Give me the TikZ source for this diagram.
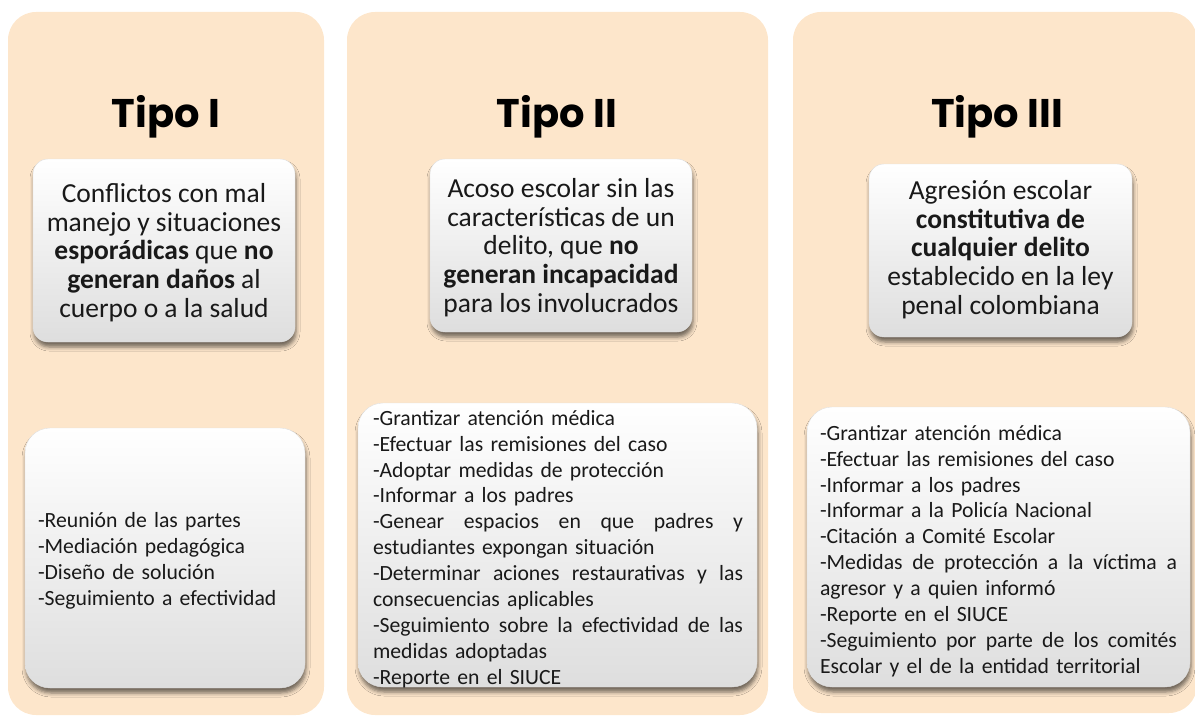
\documentclass[tikz,border=0pt]{standalone}
\usepackage{fontspec}
\setmainfont{Carlito}
\newfontfamily\titlefont{Poppins}
\usetikzlibrary{shadows.blur}
\definecolor{peach}{RGB}{253,230,203}
\definecolor{txt}{RGB}{25,25,25}
\tikzset{
  panel/.style={fill=peach, rounded corners=28pt, inner sep=0pt},
  ttl/.style={font=\titlefont\bfseries\fontsize{40}{44}\selectfont, text=black, anchor=base, inner sep=0pt},
  card/.style={rounded corners=#1, top color=white, middle color=white, bottom color=black!13,
     draw=black!12, line width=0.4pt, inner sep=0pt,
     blur shadow={shadow xshift=1pt, shadow yshift=-5pt, shadow blur radius=4pt, shadow opacity=55}},
  desctext/.style={align=center, inner sep=0pt, text=txt, font=\fontsize{27.5}{28.6}\selectfont},
  listtext/.style={align=left, inner sep=0pt, text=txt, font=\fontsize{21.7}{25.9}\selectfont},
}
\newcommand{\jl}[2]{{\spaceskip=.25em plus 10em\relax\makebox[#1][s]{#2}}}
\begin{document}
\begin{tikzpicture}[x=1pt,y=-1pt]
\useasboundingbox (0,0) rectangle (1195,717);
% panels
\node[panel, minimum width=316pt, minimum height=703pt] (p1) at (166,363.5) {};
\node[panel, minimum width=421pt, minimum height=703pt] (p2) at (557.5,363.5) {};
\node[panel, minimum width=404pt, minimum height=701pt] (p3) at (995,362.5) {};
% titles
\node[ttl] (t1) at (166,128) {Tipo I};
\node[ttl] (t2) at (557,128) {Tipo II};
\node[ttl] (t3) at (997,128) {Tipo III};
% description cards
\node[card=15pt, minimum width=262pt, minimum height=183pt] (d1) at (164,250.5) {};
\node[card=15pt, minimum width=262pt, minimum height=173pt] (d2) at (561,245.5) {};
\node[card=15pt, minimum width=263pt, minimum height=173pt] (d3) at (1000.5,250.5) {};
\node[desctext] (d1t) at (164,252.5)
  {Conflictos con mal\\manejo y situaciones\\\textbf{esporádicas} que \textbf{no}\\\textbf{generan daños} al\\cuerpo o a la salud};
\node[desctext] (d2t) at (561,247.5)
  {Acoso escolar sin las\\características de un\\delito, que \textbf{no}\\\textbf{generan incapacidad}\\para los involucrados};
\node[desctext] (d3t) at (1000.5,249.5)
  {Agresión escolar\\\textbf{constitutiva de}\\\textbf{cualquier delito}\\establecido en la ley\\penal colombiana};
% action cards
\node[card=25pt, minimum width=280pt, minimum height=260pt] (a1) at (165,558) {};
\node[card=25pt, minimum width=399pt, minimum height=284pt] (a2) at (557.5,545) {};
\node[card=25pt, minimum width=383pt, minimum height=280pt] (a3) at (998.5,547) {};
\node[listtext, text width=254pt] (a1t) at (165,561)
  {-Reunión de las partes\\-Mediación pedagógica\\-Diseño de solución\\-Seguimiento a efectividad};
\node[listtext, text width=370pt] (a2t) at (558,549)
  {-Grantizar atención médica\\
   -Efectuar las remisiones del caso\\
   -Adoptar medidas de protección\\
   -Informar a los padres\\
   \jl{370pt}{-Genear espacios en que padres y}\\
   estudiantes expongan situación\\
   \jl{370pt}{-Determinar aciones restaurativas y las}\\
   consecuencias aplicables\\
   \jl{370pt}{-Seguimiento sobre la efectividad de las}\\
   medidas adoptadas\\
   -Reporte en el SIUCE};
\node[listtext, text width=357pt] (a3t) at (998.5,551)
  {-Grantizar atención médica\\
   -Efectuar las remisiones del caso\\
   -Informar a los padres\\
   -Informar a la Policía Nacional\\
   -Citación a Comité Escolar\\
   \jl{357pt}{-Medidas de protección a la víctima a}\\
   agresor y a quien informó\\
   -Reporte en el SIUCE\\
   \jl{357pt}{-Seguimiento por parte de los comités}\\
   Escolar y el de la entidad territorial};
\end{tikzpicture}
\end{document}
